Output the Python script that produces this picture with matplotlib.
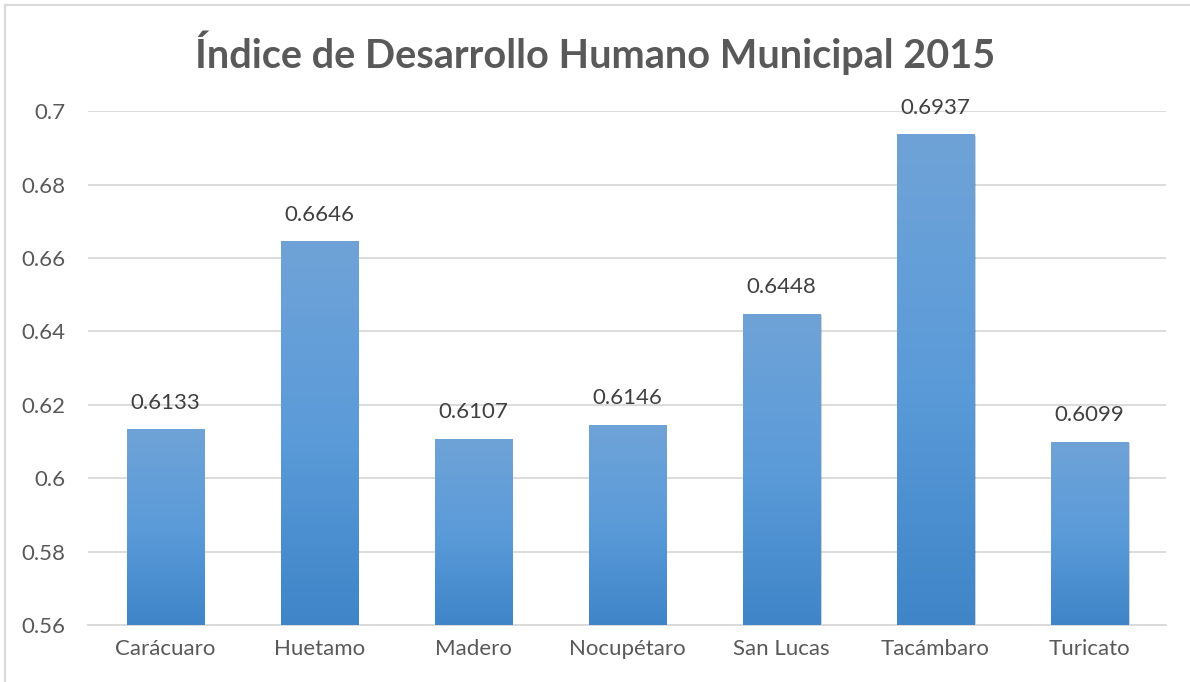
import numpy as np
import matplotlib.pyplot as plt
from matplotlib.colors import LinearSegmentedColormap
from matplotlib.patches import Rectangle
from matplotlib.lines import Line2D

municipios = ['Carácuaro', 'Huetamo', 'Madero', 'Nocupétaro', 'San Lucas', 'Tacámbaro', 'Turicato']
idh = [0.6133, 0.6646, 0.6107, 0.6146, 0.6448, 0.6937, 0.6099]
yticks = [0.56, 0.58, 0.6, 0.62, 0.64, 0.66, 0.68, 0.7]
ytick_labels = ['0.56', '0.58', '0.6', '0.62', '0.64', '0.66', '0.68', '0.7']

plt.rcParams['font.family'] = ['Lato', 'DejaVu Sans']

fig = plt.figure(figsize=(11.9, 6.82), dpi=100)
ax = fig.add_axes([0.074, 0.0836, 0.906, 0.7534])

# chart border: only top and left edges visible in the original
fig.lines.append(Line2D([0.0045, 1.0], [0.992, 0.992], transform=fig.transFigure,
                        color='#d9d9d9', linewidth=1.5))
fig.lines.append(Line2D([0.0045, 0.0045], [0.0, 0.992], transform=fig.transFigure,
                        color='#d9d9d9', linewidth=1.5))

x = np.arange(len(municipios))
bars = ax.bar(x, idh, width=0.5, color='none', zorder=3)

# gradient fill (lighter on top)
cmap = LinearSegmentedColormap.from_list('grad', ['#3f85c8', '#5b9bd9', '#6fa3d7'])
grad = np.linspace(0, 1, 256).reshape(-1, 1)
for b in bars:
    x0, w, h = b.get_x(), b.get_width(), b.get_height()
    # soft shadow
    ax.add_patch(Rectangle((x0 + 0.012, 0.56), w, h - 0.56 - 0.0004, facecolor='#000000',
                           alpha=0.18, edgecolor='none', zorder=2))
    im = ax.imshow(grad, cmap=cmap, origin='lower', aspect='auto',
                   extent=[x0, x0 + w, 0.56, h], zorder=3)
    im.set_clip_path(b)

for xi, v in zip(x, idh):
    ax.text(xi, v + 0.0045, f'{v:.4f}', ha='center', va='bottom', fontsize=16, color='#404040', zorder=4)

ax.set_xlim(-0.5, len(municipios) - 0.5)
ax.set_ylim(0.56, 0.7)
ax.set_yticks(yticks)
ax.set_yticklabels(ytick_labels)
ax.set_xticks(x)
ax.set_xticklabels(municipios)
ax.tick_params(axis='both', length=0, labelsize=16, labelcolor='#595959')
ax.tick_params(axis='x', pad=10)
ax.tick_params(axis='y', pad=16)
ax.grid(axis='y', color='#d9d9d9', linewidth=1.3, zorder=0)
for s in ['top', 'right', 'left']:
    ax.spines[s].set_visible(False)
ax.spines['bottom'].set_color('#d9d9d9')
ax.spines['bottom'].set_linewidth(1.3)

fig.text(0.5, 0.922, 'Índice de Desarrollo Humano Municipal 2015', ha='center', va='center',
         fontsize=28.5, fontweight='bold', color='#595959')

fig.savefig('out.png', dpi=100)
